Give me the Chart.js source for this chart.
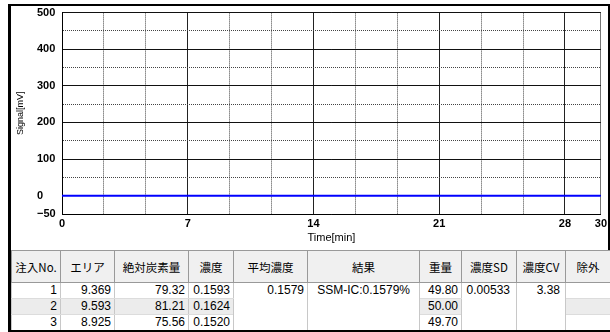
<!DOCTYPE html>
<html lang="ja">
<head>
<meta charset="UTF-8">
<title>SSM-IC 測定結果</title>
<script src="https://cdn.jsdelivr.net/npm/chart.js@4.4.0/dist/chart.umd.min.js"></script>
<style>
  html, body { margin: 0; padding: 0; background: #fff; overflow: hidden; }
  #wrap { position: relative; width: 610px; height: 332px; }
  #chartBox { position: absolute; left: 0; top: 0; width: 610px; height: 250px; }
  .frame { position: absolute; background: #000; z-index: 5; }
  #result {
    position: absolute; left: 11px; top: 250px; width: 599px;
    border-collapse: collapse; table-layout: fixed;
    font: 12px "Liberation Sans", Arial, sans-serif; color: #000;
  }
  #result th {
    height: 31px; padding: 0; background: #f0f0f0;
    font: 11.5px "Noto Sans CJK JP", sans-serif; font-weight: normal;
    border: 1px solid #999; line-height: 14px; text-align: center;
  }
  #result td {
    height: 15px; padding: 0 3px 0 0; line-height: 15px; text-align: right;
    border-left: 1px solid #c8c8c8; border-right: 1px solid #c8c8c8;
    border-top: 1px solid #dcdcdc; border-bottom: 1px solid #dcdcdc;
    white-space: nowrap;
  }
  #result td.merged { vertical-align: top; background: #fff; }
  #result tr.alt td { background: #ececec; }
  #result tr.alt td.merged { background: #fff; }
</style>
</head>
<body>
<div id="wrap">
  <div id="chartBox"><canvas id="signalChart"></canvas></div>
  <div class="frame" style="left:8px;top:4px;width:3px;height:328px"></div>
  <div class="frame" style="left:8px;top:4px;width:602px;height:2px"></div>
  <div class="frame" style="left:608px;top:4px;width:2px;height:246px"></div>
  <div class="frame" style="left:8px;top:330px;width:602px;height:2px"></div>
  <table id="result"></table>
</div>

<script>
  // detector trace
  var timeMin = [0, 5, 10, 15, 20, 25, 30];
  var signalMv = [0, 0, 0, 0, 0, 0, 0];

  // axis ticks
  var gridTimes = [0, 2.33, 4.67, 7, 9.33, 11.67, 14, 16.33, 18.67, 21, 23.33, 25.67, 28, 30];
  var timeLabels = [0, 7, 14, 21, 28, 30];
  var signalLabels = [-50, 0, 100, 200, 300, 400, 500];

  // measurement table
  var headers = ['注入No.', 'エリア', '絶対炭素量', '濃度', '平均濃度', '結果', '重量', '濃度SD', '濃度CV', '除外'];
  var colWidths = [49, 54, 74, 45, 74, 112, 42, 55, 49, 45];
  var injectionNo = [1, 2, 3];
  var areas = [9.369, 9.593, 8.925];
  var carbonAmounts = [79.32, 81.21, 75.56];
  var concentrations = [0.1593, 0.1624, 0.1520];
  var weights = [49.80, 50.00, 49.70];
  var meanConc = 0.1579;
  var resultText = 'SSM-IC:0.1579%';
  var concSD = 0.00533;
  var concCV = 3.38;

  function buildTable() {
    var t = document.getElementById('result');
    var html = '<colgroup>';
    colWidths.forEach(function (w) { html += '<col style="width:' + w + 'px">'; });
    html += '</colgroup><tr>';
    headers.forEach(function (h) { html += '<th>' + h + '</th>'; });
    html += '</tr>';
    for (var i = 0; i < injectionNo.length; i++) {
      html += '<tr' + (i === 1 ? ' class="alt"' : '') + '>';
      html += '<td>' + injectionNo[i] + '</td>';
      html += '<td>' + areas[i].toFixed(3) + '</td>';
      html += '<td>' + carbonAmounts[i].toFixed(2) + '</td>';
      html += '<td>' + concentrations[i].toFixed(4) + '</td>';
      if (i === 0) html += '<td class="merged" rowspan="3">' + meanConc.toFixed(4) + '</td>';
      if (i === 0) html += '<td class="merged" rowspan="3" style="padding-right:9px">' + resultText + '</td>';
      html += '<td>' + weights[i].toFixed(2) + '</td>';
      if (i === 0) html += '<td class="merged" rowspan="3" style="padding-right:6px">' + concSD.toFixed(5) + '</td>';
      if (i === 0) html += '<td class="merged" rowspan="3" style="padding-right:5px">' + concCV.toFixed(2) + '</td>';
      html += '<td></td>';
      html += '</tr>';
    }
    t.innerHTML = html;
  }
  buildTable();

  var points = timeMin.map(function (t, i) { return { x: t, y: signalMv[i] }; });
  var tickFont = { family: '"Liberation Sans", Arial, sans-serif', size: 11, weight: 'bold' };

  new Chart(document.getElementById('signalChart'), {
    type: 'line',
    data: {
      datasets: [{
        data: points,
        borderColor: '#0000ff',
        borderWidth: 2,
        pointRadius: 0,
        tension: 0
      }]
    },
    options: {
      responsive: true,
      maintainAspectRatio: false,
      animation: false,
      // y axis box starts at 37 so its left-aligned labels line up there
      layout: { padding: { left: 37, top: 12, right: 7, bottom: 0 } },
      plugins: { legend: { display: false }, tooltip: { enabled: false } },
      scales: {
        x: {
          type: 'linear',
          min: 0,
          max: 30,
          afterBuildTicks: function (scale) {
            scale.ticks = gridTimes.map(function (v) { return { value: v }; });
          },
          afterFit: function (scale) { scale.height = 36; },
          ticks: {
            autoSkip: false,
            maxRotation: 0,
            padding: 3,
            color: '#000',
            font: tickFont,
            callback: function (v) { return timeLabels.indexOf(v) >= 0 ? String(v) : ''; }
          },
          grid: {
            drawTicks: false,
            lineWidth: 1,
            color: function (c) {
              if (!c.tick) return '#000';
              if (c.tick.value === 30) return '#777';
              return timeLabels.indexOf(c.tick.value) >= 0 ? '#222' : '#444';
            }
          },
          border: {
            color: '#000',
            width: 1,
            dash: function (c) {
              return c.tick && timeLabels.indexOf(c.tick.value) < 0 ? [1, 1] : [];
            }
          },
          title: {
            display: true,
            text: 'Time[min]',
            color: '#000',
            font: { family: '"Liberation Sans", Arial, sans-serif', size: 11 },
            padding: { top: 0, bottom: 5 }
          }
        },
        y: {
          min: -50,
          max: 500,
          afterFit: function (scale) { scale.width = 25; },
          ticks: {
            stepSize: 50,
            autoSkip: false,
            padding: 6,
            crossAlign: 'far',
            color: '#000',
            font: tickFont,
            callback: function (v) {
              if (signalLabels.indexOf(v) < 0) return '';
              return v < 0 ? '\u2212' + Math.abs(v) : String(v);
            }
          },
          grid: {
            drawTicks: false,
            lineWidth: 1,
            color: function (c) {
              if (!c.tick) return '#000';
              return c.tick.value % 100 === 0 ? '#111' : '#444';
            }
          },
          border: {
            color: '#000',
            width: 1,
            dash: function (c) {
              return c.tick && c.tick.value % 100 !== 0 ? [1, 1] : [];
            }
          },
          title: {
            display: true,
            text: 'Signal[mV]',
            color: '#000',
            font: { family: '"Liberation Sans", Arial, sans-serif', size: 9 },
            // pull the title out to the left of the label column
            padding: { top: -22, bottom: 0 }
          }
        }
      }
    }
  });
</script>
</body>
</html>
